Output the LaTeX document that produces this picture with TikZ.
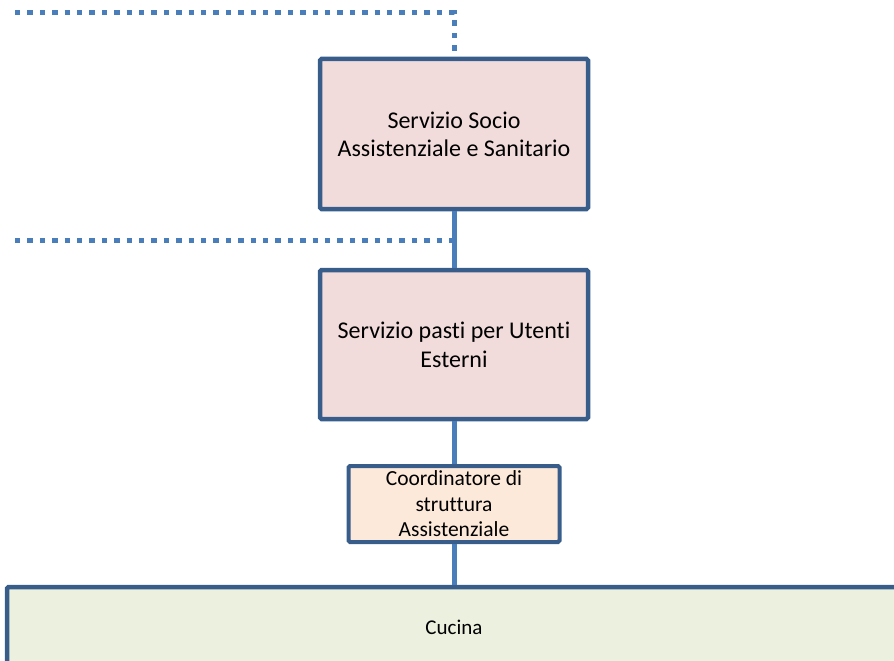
\documentclass[tikz,border=0pt]{standalone}
\usepackage{fontspec}
\setmainfont{Carlito}[RawFeature=-liga]
\usepackage{xcolor}
\usepackage{tikz}
\definecolor{frame}{HTML}{385D8A}
\definecolor{link}{HTML}{4A7EBB}
\definecolor{rosebox}{HTML}{F2DCDB}
\definecolor{peachbox}{HTML}{FDE9D9}
\definecolor{greenbox}{HTML}{EBF1DE}

\begin{document}
\begin{tikzpicture}[
    x=1pt, y=-1pt,
    every node/.style={
        draw=frame,
        line width=4.5pt,
        rectangle,
        rounded corners=1.5pt,
        inner sep=0pt,
        align=center
    },
    conn/.style={draw=link, line width=5pt},
    dotline/.style={draw=link, line width=5pt, dash pattern=on 5.4pt off 7pt}
]
\useasboundingbox (0,0) rectangle (894,661);
\clip (0,0) rectangle (894,661);

% Nodes
\node[fill=rosebox, minimum width=268pt, minimum height=150pt,
      font=\fontsize{24}{28}\selectfont] (ssa) at (454,134)
      {Servizio Socio\\Assistenziale e Sanitario};
\node[fill=rosebox, minimum width=268pt, minimum height=149pt,
      font=\fontsize{24}{29}\selectfont] (pasti) at (454,344.5)
      {Servizio pasti per Utenti\\Esterni};
\node[fill=peachbox, line width=4pt, minimum width=211pt, minimum height=76pt,
      font=\fontsize{21.5}{25.5}\selectfont] (coord) at (454,504)
      {Coordinatore di\\struttura\\Assistenziale};
\node[fill=greenbox, minimum width=894pt, minimum height=80pt,
      font=\fontsize{21}{24}\selectfont] (cucina) at (454,627)
      {Cucina};

% Connections
\coordinate (topleft) at (15,13);
\coordinate (midleft) at (15,240);

\draw[dotline] (topleft) -| (ssa.north);
\draw[dotline] (midleft) -- (ssa.south |- midleft);

\draw[conn] (ssa.south) -- (pasti.north);
\draw[conn] (pasti.south) -- (coord.north);
\draw[conn] (coord.south) -- (cucina.north);

\end{tikzpicture}
\end{document}
